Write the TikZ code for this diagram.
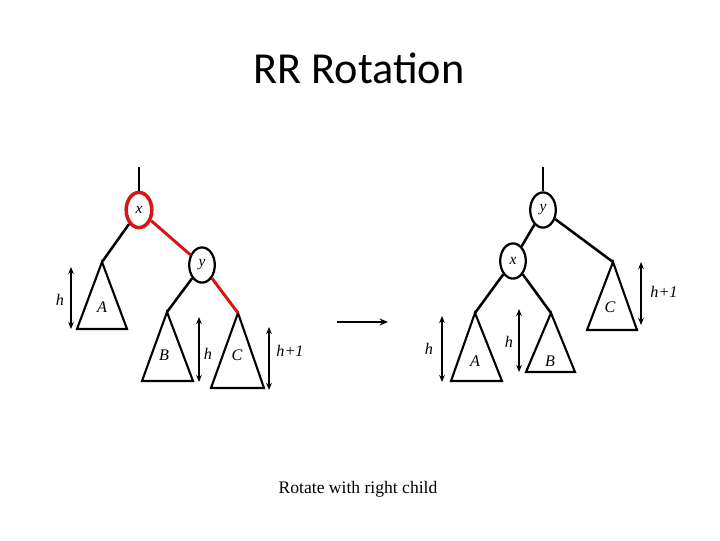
\documentclass[tikz,border=0pt]{standalone}
\usepackage{fontspec}
\setmainfont{Liberation Serif}
\newfontfamily\titlefont{Carlito}
\usetikzlibrary{arrows.meta, shapes.geometric}
\definecolor{RotRed}{rgb}{0.85, 0.08, 0.08}

\begin{document}
\begin{tikzpicture}[
    x=0.025cm, y=-0.025cm,
    edge/.style={line width=1.8pt, black},
    hot/.style={line width=2.1pt, RotRed},
    keynode/.style={ellipse, draw, line width=1.6pt, fill=white, minimum width=0.64cm,
        minimum height=0.88cm, inner sep=0pt, font=\fontsize{11}{13}\selectfont\itshape},
    tri/.style={line width=1.5pt, line join=miter},
    lbl/.style={font=\fontsize{11.5}{13}\selectfont\itshape, inner sep=0pt},
    hgt/.style={{Stealth[length=5pt, width=4pt]}-{Stealth[length=5pt, width=4pt]}, line width=1.1pt},
]
\useasboundingbox (0,0) rectangle (720,540);

\node[font=\titlefont\fontsize{31.5}{36}\selectfont] (title) at (359,68) {RR Rotation};

% vor der Rotation
\coordinate (lroot) at (139,167);
\node[keynode, draw=RotRed, line width=2.5pt] (lx) at (139,210) {x};
\node[keynode] (ly) at (202,265) {y};
\coordinate (lA) at (102,262);
\coordinate (lB) at (167,312);
\coordinate (lC) at (238,313);
\draw[tri] (lA) -- (77,329) -- (127,329) -- cycle;
\draw[tri] (lB) -- (142,381) -- (193,381) -- cycle;
\draw[tri] (lC) -- (211,388) -- (264,388) -- cycle;
\node[lbl] (lAl) at (102,307) {A};
\node[lbl] (lBl) at (164,355) {B};
\node[lbl] (lCl) at (237,355) {C};

\draw[edge] (lroot) -- (lx);
\draw[edge] (lx) -- (lA);
\draw[hot] (lx) -- (ly);
\draw[edge] (ly) -- (lB);
\draw[hot] (ly) -- (lC);

\coordinate (lhA1) at (71,267); \coordinate (lhA2) at (71,329);
\coordinate (lhB1) at (199,317); \coordinate (lhB2) at (199,382);
\coordinate (lhC1) at (269,327); \coordinate (lhC2) at (269,390);
\draw[hgt] (lhA1) -- (lhA2);
\draw[hgt] (lhB1) -- (lhB2);
\draw[hgt] (lhC1) -- (lhC2);
\node[lbl] (lhAl) at (60,300) {h};
\node[lbl] (lhBl) at (208,354) {h};
\node[lbl] (lhCl) at (290,351) {h+1};

% Pfeil
\coordinate (mid1) at (337,322);
\coordinate (mid2) at (388,322);
\draw[-{Stealth[length=6pt, width=5pt]}, line width=1.4pt] (mid1) -- (mid2);

% nach der Rotation
\coordinate (rroot) at (543,167);
\node[keynode] (ry) at (543,210) {y};
\node[keynode] (rx) at (513,261) {x};
\coordinate (rA) at (475,313);
\coordinate (rB) at (551,313);
\coordinate (rC) at (613,262);
\draw[tri] (rA) -- (451,381) -- (502,381) -- cycle;
\draw[tri] (rB) -- (526,372) -- (575,372) -- cycle;
\draw[tri] (rC) -- (587,330) -- (637,330) -- cycle;
\node[lbl] (rAl) at (475,361) {A};
\node[lbl] (rBl) at (550,361) {B};
\node[lbl] (rCl) at (610,307) {C};

\draw[edge] (rroot) -- (ry);
\draw[edge] (ry) -- (rx);
\draw[edge] (ry) -- (rC);
\draw[edge] (rx) -- (rA);
\draw[edge] (rx) -- (rB);

\coordinate (rhA1) at (442,316); \coordinate (rhA2) at (442,382);
\coordinate (rhB1) at (519,309); \coordinate (rhB2) at (519,372);
\coordinate (rhC1) at (641,262); \coordinate (rhC2) at (641,325);
\draw[hgt] (rhA1) -- (rhA2);
\draw[hgt] (rhB1) -- (rhB2);
\draw[hgt] (rhC1) -- (rhC2);
\node[lbl] (rhAl) at (429,349) {h};
\node[lbl] (rhBl) at (509,342) {h};
\node[lbl] (rhCl) at (664,292) {h+1};

\node[font=\fontsize{12.5}{15}\selectfont] (caption) at (358,489) {Rotate with right child};

\end{tikzpicture}
\end{document}
